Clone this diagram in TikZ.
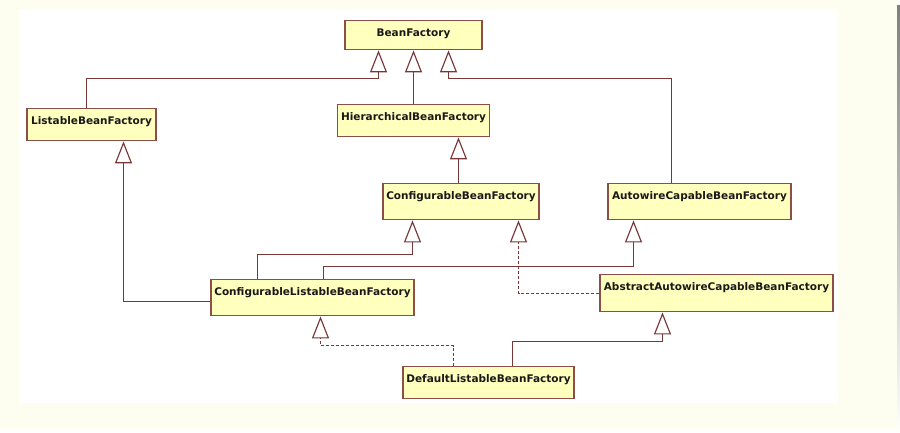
\documentclass[tikz,border=0pt]{standalone}
\usepackage{fontspec}
\setmainfont{DejaVu Sans}
\usetikzlibrary{arrows.meta}
\definecolor{cream}{RGB}{254,254,240}
\definecolor{boxfill}{RGB}{255,255,190}
\definecolor{boxline}{RGB}{140,78,70}
\definecolor{conn}{RGB}{120,55,55}
\definecolor{shade}{RGB}{60,60,60}
\tikzset{
  cls/.style={draw=boxline, fill=boxfill, line width=1.4pt, inner sep=0pt,
    text height=16pt, anchor=north, font=\fontsize{10.5}{12}\selectfont\bfseries, text=black!90},
  inh/.style={draw=conn, line width=1.15pt, -{Triangle[length=22pt,width=17pt,fill=white]}},
  real/.style={inh, dash pattern=on 3pt off 2pt},
}
\begin{document}
\begin{tikzpicture}[x=1pt,y=-1pt]
\useasboundingbox (0,0) rectangle (900,433);
\fill[shade] (4,6) rectangle (900,433);
\fill[cream] (0,0) rectangle (897,429);
\fill[white] (19,9) rectangle (838,403);

\node[cls, minimum width=137pt, text depth=13pt] (BF) at (413.5,20) {BeanFactory};
\node[cls, minimum width=129pt, text depth=16pt] (LBF) at (91.5,108) {ListableBeanFactory};
\node[cls, minimum width=152pt, text depth=16pt] (HBF) at (413.5,104) {HierarchicalBeanFactory};
\node[cls, minimum width=156pt, text depth=20pt] (CBF) at (461,183) {ConfigurableBeanFactory};
\node[cls, minimum width=183pt, text depth=20pt] (ACBF) at (699.5,183) {AutowireCapableBeanFactory};
\node[cls, minimum width=203pt, text depth=20pt] (CLBF) at (312.5,279) {ConfigurableListableBeanFactory};
\node[cls, minimum width=233pt, text depth=21pt] (AACBF) at (716.5,274) {AbstractAutowireCapableBeanFactory};
\node[cls, minimum width=171pt, text depth=16pt] (DLBF) at (488.5,366) {DefaultListableBeanFactory};

% generalizations
\draw[inh] ([xshift=-5pt]LBF.north) -- ++(0,-29.5) -| ([xshift=-35pt]BF.south);
\draw[inh] (HBF.north) -- (BF.south);
\draw[inh] ([xshift=-28pt]ACBF.north) -- ++(0,-104.5) -| ([xshift=35pt]BF.south);
\draw[inh] ([xshift=-2.5pt]CBF.north) -- ([xshift=45pt]HBF.south);
\draw[inh] ([yshift=-3.5pt]CLBF.west) -| ([xshift=32pt]LBF.south);
\draw[inh] ([xshift=-55pt]CLBF.north) -- ++(0,-24.5) -| ([xshift=-48.5pt]CBF.south);
\draw[inh] ([xshift=11pt]CLBF.north) -- ++(0,-12.5) -| ([xshift=-66pt]ACBF.south);
\draw[inh] ([xshift=24pt]DLBF.north) -- ++(0,-24.5) -| ([xshift=-54pt]AACBF.south);
% realizations
\draw[real] (AACBF.west) -| ([xshift=57.5pt]CBF.south);
\draw[real] ([xshift=-35pt]DLBF.north) -- ++(0,-20.5) -| ([xshift=8pt]CLBF.south);
\end{tikzpicture}
\end{document}
